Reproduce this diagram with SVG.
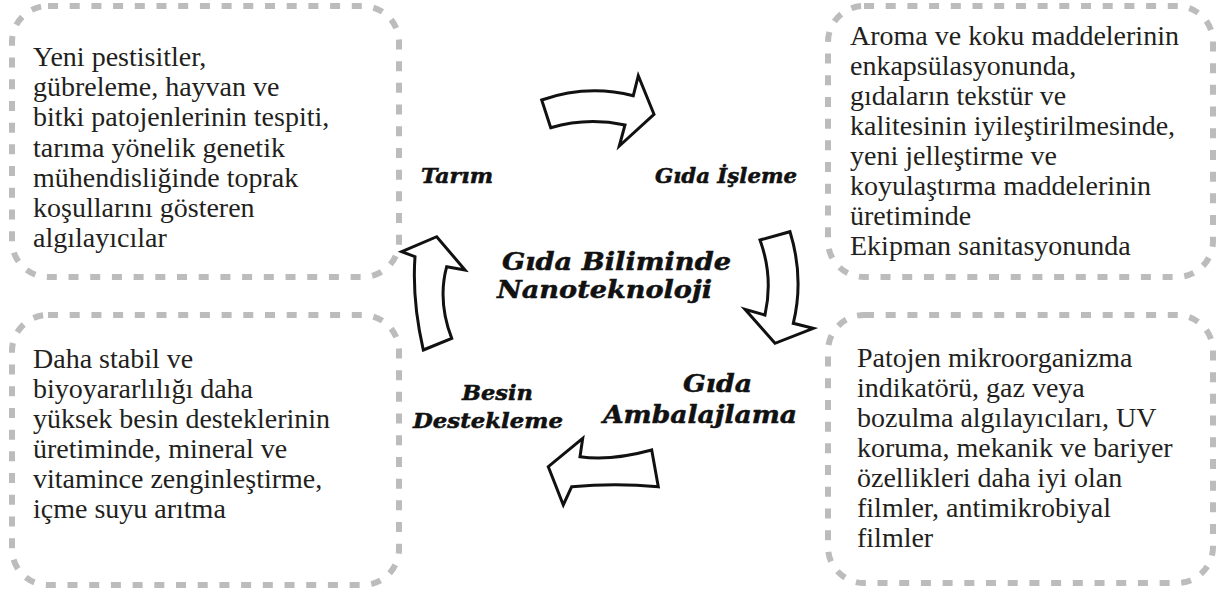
<svg xmlns="http://www.w3.org/2000/svg" width="1219" height="592" viewBox="0 0 1219 592">
<style>
.box{fill:none;stroke:#bcbcbc;stroke-width:6;stroke-dasharray:10 11.7}
.body{font-family:"Liberation Serif","Times New Roman",serif;font-size:28px;fill:#231f20}
.lbl{font-family:"DejaVu Serif","Liberation Serif",serif;font-weight:bold;font-style:italic;fill:#111;stroke:#111;stroke-width:0.5}
.s{font-size:20px}
.l{font-size:25px}
.arr{fill:#fff;stroke:#111;stroke-width:3;stroke-linejoin:miter}
</style>
<rect width="1219" height="592" fill="#fff"/>
<g id="node-tarim-box">
<rect class="box" x="12" y="6" width="387" height="271" rx="36"/>
<text class="body"><tspan x="33" y="66">Yeni pestisitler,</tspan><tspan x="33" y="96">gübreleme, hayvan ve</tspan><tspan x="33" y="126">bitki patojenlerinin tespiti,</tspan><tspan x="33" y="157">tarıma yönelik genetik</tspan><tspan x="33" y="187">mühendisliğinde toprak</tspan><tspan x="33" y="217">koşullarını gösteren</tspan><tspan x="33" y="247">algılayıcılar</tspan></text>
</g>
<g id="node-isleme-box">
<rect class="box" x="828" y="6" width="385" height="271" rx="36"/>
<text class="body"><tspan x="850" y="45">Aroma ve koku maddelerinin</tspan><tspan x="850" y="75">enkapsülasyonunda,</tspan><tspan x="850" y="105">gıdaların tekstür ve</tspan><tspan x="850" y="135">kalitesinin iyileştirilmesinde,</tspan><tspan x="850" y="165">yeni jelleştirme ve</tspan><tspan x="850" y="195">koyulaştırma maddelerinin</tspan><tspan x="850" y="225">üretiminde</tspan><tspan x="850" y="255">Ekipman sanitasyonunda</tspan></text>
</g>
<g id="node-besin-box">
<rect class="box" x="12" y="315" width="387" height="270" rx="36"/>
<text class="body"><tspan x="33" y="368">Daha stabil ve</tspan><tspan x="33" y="398">biyoyararlılığı daha</tspan><tspan x="33" y="428">yüksek besin desteklerinin</tspan><tspan x="33" y="458">üretiminde, mineral ve</tspan><tspan x="33" y="488">vitamince zenginleştirme,</tspan><tspan x="33" y="518">içme suyu arıtma</tspan></text>
</g>
<g id="node-ambalaj-box">
<rect class="box" x="828" y="315" width="385" height="268" rx="36"/>
<text class="body"><tspan x="857" y="367">Patojen mikroorganizma</tspan><tspan x="857" y="397">indikatörü, gaz veya</tspan><tspan x="857" y="427">bozulma algılayıcıları, UV</tspan><tspan x="857" y="457">koruma, mekanik ve bariyer</tspan><tspan x="857" y="487">özellikleri daha iyi olan</tspan><tspan x="857" y="517">filmler, antimikrobiyal</tspan><tspan x="857" y="547">filmler</tspan></text>
</g>
<g id="node-center">
<text class="lbl l" x="502" y="270" textLength="229" lengthAdjust="spacingAndGlyphs">Gıda Biliminde</text>
<text class="lbl l" x="497" y="298" textLength="215" lengthAdjust="spacingAndGlyphs">Nanoteknoloji</text>
</g>
<g id="node-tarim"><text class="lbl s" x="421" y="183" textLength="72" lengthAdjust="spacingAndGlyphs">Tarım</text></g>
<g id="node-isleme"><text class="lbl s" x="655" y="183" textLength="142" lengthAdjust="spacingAndGlyphs">Gıda İşleme</text></g>
<g id="node-besin"><text class="lbl s" x="462" y="400" textLength="71" lengthAdjust="spacingAndGlyphs">Besin</text><text class="lbl s" x="413" y="428" textLength="150" lengthAdjust="spacingAndGlyphs">Destekleme</text></g>
<g id="node-ambalaj"><text class="lbl l" x="683" y="392" textLength="69" lengthAdjust="spacingAndGlyphs">Gıda</text><text class="lbl l" x="603" y="423" textLength="194" lengthAdjust="spacingAndGlyphs">Ambalajlama</text></g>
<g id="connectors">
<path class="arr" d="M541.7,100 Q587,84.2 633.3,95.7 L638.3,75.7 L654,114.3 L619.3,146 L625,125 Q587,117 550.7,127.7 Z"/>
<path class="arr" d="M760,240 L790,231.7 Q804.3,278 793.3,323.3 L813.3,328.3 L775,343.3 L745,309.3 L765,315 Q773.5,277 760,240 Z"/>
<path class="arr" d="M651.7,450 L658.3,486.7 Q615,482.7 571.7,486.7 L563.3,505 L548.3,466.7 L582.7,438.3 L580,456.7 Q610,461.3 651.7,450 Z"/>
<path class="arr" d="M423.3,350 L451.7,338.3 Q437.4,300.9 446.7,266.7 L465,270 L436.7,236.7 L401.7,251.7 L415,256.7 Q411.9,300 423.3,350 Z"/>
</g>
</svg>
